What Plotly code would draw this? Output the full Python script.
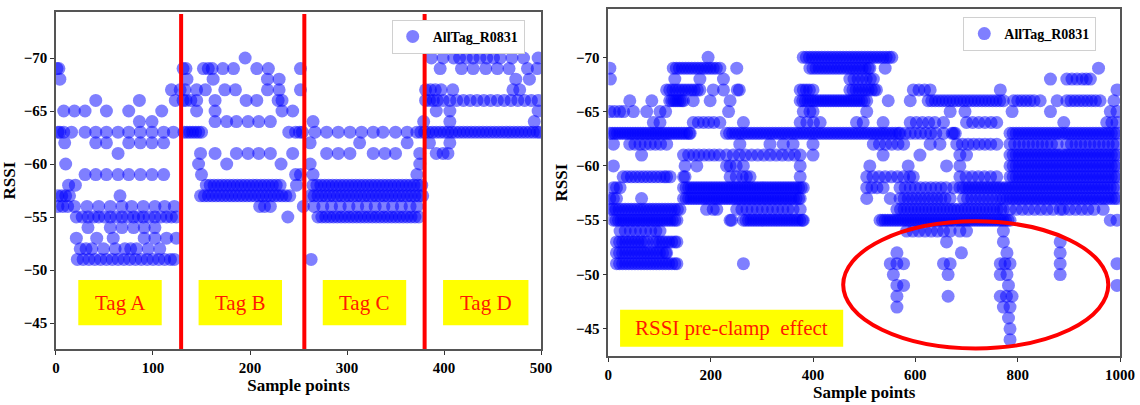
import plotly.graph_objects as go

# ---------------- data: left panel (x positions of samples per RSSI level) ----------------
left_levels = [-70, -69, -68, -67, -66, -65, -64, -63, -62, -61, -60, -59, -58, -57, -56, -55, -54, -53, -52, -51]
left_m70 = [195, 387, 399, 410, 416, 423, 430, 437, 444, 451, 458, 470, 482, 497]
left_m69 = [1, 3, 131, 134, 152, 157, 161, 172, 183, 207, 219, 252, 396, 418, 430, 443, 455, 467, 486, 496]
left_m68 = [4, 135, 162, 218, 230, 474, 488]
left_m67 = [119, 128, 133, 145, 154, 174, 185, 218, 230, 252, 381, 386, 391, 397, 409, 471, 478]
left_m66 = [41, 86, 123, 131, 134, 139, 145, 164, 196, 207, 229, 233, 381, 385, 389, 393, 399, 406, 413, 420,
            427, 434, 441, 448, 455, 462, 469, 476, 483, 490, 497]
left_m65 = [8, 19, 30, 52, 75, 109, 145, 164, 233, 244, 392, 406, 497]
left_m64 = [86, 99, 164, 176, 186, 198, 209, 221, 265, 379, 406, 493]
left_m63 = [2, 4, 8, 16, 30, 41, 52, 64, 75, 87, 99, 111, 121, 132, 135, 138, 141, 144, 147, 150, 240, 247, 251,
            254, 267, 279, 291, 303, 315, 327, 337, 350, 362, 372, 376, 380, 384, 388, 392, 396, 400, 404, 408, 412,
            416, 420, 424, 428, 432, 436, 440, 444, 448, 452, 456, 460, 464, 468, 472, 476, 480, 484, 488, 492, 496,
            499]
left_m62 = [9, 41, 52, 75, 87, 99, 111, 262, 313, 362, 385, 406]
left_m61 = [64, 149, 164, 186, 198, 209, 221, 244, 279, 291, 303, 327, 339, 350, 375, 392, 399, 404]
left_m60 = [10, 147, 176, 232, 262, 375]
left_m59 = [30, 41, 52, 64, 75, 87, 99, 111, 150, 247, 252, 265, 372]
left_m58 = [13, 20, 155, 159, 163, 167, 171, 175, 179, 183, 187, 191, 195, 199, 203, 207, 211, 215, 219, 223, 227,
            231, 248, 265, 269, 273, 277, 281, 285, 289, 293, 297, 301, 305, 309, 313, 317, 321, 325, 329, 333, 337,
            341, 345, 349, 353, 357, 361, 365, 369, 373, 377]
left_m57 = [2, 6, 10, 14, 66, 149, 153, 157, 161, 165, 169, 173, 177, 181, 185, 189, 193, 197, 201, 205, 209, 213,
            217, 221, 225, 229, 233, 237, 241, 262, 266, 270, 274, 278, 282, 286, 290, 294, 298, 302, 306, 310, 314,
            318, 322, 326, 330, 334, 338, 342, 346, 350, 354, 358, 362, 366, 370, 374, 378]
left_m56 = [2, 7, 12, 19, 32, 44, 56, 68, 78, 90, 102, 112, 122, 210, 215, 221, 255, 266, 275, 284, 293, 302, 311,
            320, 329, 338, 347, 356, 365, 372]
left_m55 = [21, 27, 33, 39, 44, 50, 56, 62, 68, 74, 80, 85, 90, 96, 102, 108, 114, 119, 124, 239, 270, 274, 278,
            282, 286, 290, 294, 298, 302, 306, 310, 314, 318, 322, 326, 330, 334, 338, 342, 346, 350, 354, 358, 362,
            366, 370, 374]
left_m54 = [33, 56, 68, 80, 91, 102]
left_m53 = [21, 42, 59, 91, 102, 114, 124]
left_m52 = [25, 31, 37, 49, 61, 71, 77, 83, 95, 107]
left_m51 = [22, 28, 34, 40, 46, 52, 58, 64, 70, 76, 82, 88, 94, 100, 106, 112, 118, 122, 263]
left_rows = [left_m70, left_m69, left_m68, left_m67, left_m66, left_m65, left_m64, left_m63, left_m62, left_m61,
             left_m60, left_m59, left_m58, left_m57, left_m56, left_m55, left_m54, left_m53, left_m52, left_m51]

tag_boundaries = [129, 256, 380]
tag_labels = ["Tag A", "Tag B", "Tag C", "Tag D"]

# ---------------- data: right panel ----------------
right_levels = [-70, -69, -68, -67, -66, -65, -64, -63, -62, -61, -60, -59, -58, -57, -56, -55, -54, -53, -52, -51,
                -50, -49, -48, -47, -46, -45, -44]
right_m70 = [195, 381, 387, 393, 399, 405, 411, 417, 423, 429, 435, 441, 447, 453, 459, 465, 471, 477, 483, 489,
             495, 501, 507, 513, 519, 525, 531, 537, 543, 549, 554]
right_m69 = [3, 127, 133, 139, 145, 151, 157, 163, 169, 175, 181, 187, 193, 199, 205, 211, 218, 251, 394, 400, 406,
             412, 418, 424, 430, 436, 442, 448, 454, 460, 466, 472, 478, 484, 490, 496, 502, 508, 511, 541, 958]
right_m68 = [4, 130, 179, 225, 472, 480, 488, 496, 504, 512, 518, 864, 896, 906, 916, 926, 934, 942]
right_m67 = [114, 120, 126, 132, 138, 144, 150, 156, 162, 168, 174, 179, 205, 225, 252, 256, 375, 381, 387, 393, 400,
             472, 478, 484, 490, 496, 502, 508, 514, 520, 524, 596, 607, 618, 629, 766, 994]
right_m66 = [42, 85, 120, 124, 128, 132, 136, 140, 144, 147, 166, 199, 238, 375, 380, 385, 390, 395, 400, 405, 410,
             415, 420, 425, 430, 435, 440, 445, 450, 455, 460, 465, 470, 475, 480, 485, 490, 495, 500, 505, 547, 590,
             625, 632, 639, 646, 653, 660, 667, 674, 681, 688, 695, 702, 709, 716, 723, 730, 737, 744, 751, 758, 765,
             772, 792, 800, 808, 816, 824, 832, 844, 877, 896, 904, 912, 920, 928, 936, 944, 952, 961, 988]
right_m65 = [3, 12, 22, 30, 49, 75, 101, 112, 235, 381, 394, 400, 505, 668, 697, 789, 864, 981, 994]
right_m64 = [88, 101, 166, 176, 186, 196, 206, 218, 264, 375, 388, 401, 414, 485, 498, 537, 590, 602, 614, 626, 638,
             655, 700, 712, 724, 736, 748, 759, 890, 974, 984, 994]
right_m63 = [3, 8, 13, 18, 23, 28, 33, 38, 43, 48, 53, 58, 63, 68, 73, 78, 83, 88, 93, 98, 103, 108, 113, 118, 123,
             128, 133, 138, 143, 148, 153, 158, 160, 231, 237, 243, 249, 255, 261, 267, 273, 279, 285, 291, 297, 303,
             309, 315, 321, 327, 333, 339, 345, 351, 357, 363, 369, 375, 381, 387, 393, 399, 405, 411, 417, 423, 429,
             435, 441, 447, 453, 459, 465, 471, 477, 483, 489, 495, 501, 507, 513, 519, 525, 531, 537, 543, 549, 555,
             561, 567, 570, 580, 590, 600, 610, 620, 630, 640, 655, 672, 675, 678, 785, 791, 797, 803, 809, 815, 821,
             827, 833, 839, 845, 851, 857, 863, 869, 875, 881, 887, 893, 899, 905, 911, 917, 923, 929, 935, 941, 947,
             953, 959, 965, 971, 977, 983, 989, 994]
right_m62 = [10, 42, 52, 62, 72, 82, 92, 102, 114, 257, 316, 342, 361, 400, 518, 530, 542, 554, 566, 577, 629, 648,
             681, 692, 703, 714, 725, 736, 747, 759, 785, 794, 803, 812, 821, 830, 839, 848, 857, 866, 877, 896, 905,
             914, 923, 932, 941, 950, 959, 968, 977, 986, 994]
right_m61 = [65, 147, 157, 167, 177, 187, 197, 207, 217, 231, 244, 256, 268, 280, 292, 304, 316, 328, 340, 352, 364,
             375, 400, 537, 609, 687, 700, 785, 791, 797, 803, 809, 815, 821, 827, 833, 839, 845, 851, 857, 863, 869,
             875, 881, 887, 893, 899, 905, 911, 917, 923, 929, 935, 941, 947, 953, 959, 965, 971, 977, 983, 989, 994]
right_m60 = [10, 150, 173, 231, 238, 250, 264, 375, 511, 586, 661, 687, 785, 791, 797, 803, 809, 815, 821, 827, 833,
             839, 845, 851, 857, 863, 869, 875, 881, 887, 893, 899, 905, 911, 917, 923, 929, 935, 941, 947, 953, 959,
             965, 971, 977, 983, 989, 994]
right_m59 = [29, 37, 45, 53, 61, 69, 77, 85, 93, 101, 109, 114, 121, 147, 150, 238, 250, 262, 270, 277, 375, 505,
             517, 529, 541, 553, 565, 577, 589, 596, 687, 699, 711, 723, 735, 747, 759, 785, 791, 797, 803, 809, 815,
             821, 827, 833, 839, 845, 851, 857, 863, 869, 875, 881, 887, 893, 899, 905, 911, 917, 923, 929, 935, 941,
             947, 953, 959, 965, 971, 977, 983, 989, 994]
right_m58 = [10, 16, 23, 147, 152, 157, 162, 167, 172, 177, 182, 187, 192, 197, 202, 207, 212, 217, 222, 227, 232,
             237, 242, 247, 252, 257, 262, 267, 272, 277, 282, 287, 292, 297, 302, 307, 312, 317, 322, 327, 332, 337,
             342, 347, 352, 357, 362, 367, 372, 377, 381, 505, 515, 525, 537, 570, 580, 590, 600, 610, 620, 630, 640,
             650, 660, 675, 687, 693, 699, 705, 711, 717, 723, 729, 735, 741, 747, 753, 759, 765, 771, 777, 783, 789,
             795, 801, 807, 813, 819, 825, 831, 837, 843, 849, 855, 861, 867, 873, 879, 885, 891, 897, 903, 909, 915,
             921, 927, 933, 939, 945, 951, 957, 963, 969, 975, 981, 987, 994]
right_m57 = [3, 10, 16, 65, 147, 152, 157, 162, 167, 172, 177, 182, 187, 192, 197, 202, 207, 212, 217, 222, 227, 232,
             237, 242, 247, 252, 257, 262, 267, 272, 277, 282, 287, 292, 297, 302, 307, 312, 317, 322, 327, 332, 337,
             342, 347, 352, 357, 362, 367, 372, 375, 505, 551, 570, 578, 586, 594, 602, 610, 618, 626, 634, 642, 650,
             658, 668, 694, 702, 710, 718, 726, 734, 742, 750, 758, 766, 772, 779, 785, 791, 797, 803, 809, 815, 821,
             827, 833, 839, 845, 851, 857, 863, 869, 875, 881, 887, 893, 899, 905, 911, 917, 923, 929, 935, 941, 947,
             953, 959, 965, 971, 977, 983, 989, 994]
right_m56 = [3, 9, 15, 21, 27, 33, 39, 45, 51, 57, 63, 69, 75, 81, 87, 93, 99, 105, 111, 117, 123, 129, 135, 140,
             192, 205, 212, 251, 261, 271, 281, 291, 301, 311, 321, 331, 341, 351, 361, 375, 564, 571, 578, 585, 592,
             599, 606, 613, 620, 627, 634, 641, 648, 655, 662, 669, 676, 683, 690, 697, 704, 711, 718, 725, 732, 739,
             746, 753, 760, 767, 772, 785, 797, 809, 821, 833, 845, 857, 869, 883, 889, 901, 913, 925, 937, 949, 967]
right_m55 = [10, 15, 20, 25, 30, 35, 40, 45, 50, 55, 60, 65, 70, 75, 80, 85, 90, 95, 100, 105, 110, 115, 120, 125,
             130, 134, 238, 241, 264, 269, 274, 279, 284, 289, 294, 299, 304, 309, 314, 319, 324, 329, 334, 339, 344,
             349, 354, 359, 364, 369, 374, 379, 381, 531, 536, 541, 546, 551, 556, 561, 566, 571, 576, 581, 586, 591,
             596, 601, 606, 611, 616, 621, 626, 631, 636, 641, 646, 651, 656, 661, 666, 671, 676, 681, 686, 691, 696,
             701, 706, 711, 716, 721, 726, 731, 736, 741, 746, 751, 756, 761, 766, 771, 776, 781, 785, 981, 994]
right_m54 = [23, 33, 43, 53, 63, 73, 83, 93, 101, 583, 595, 607, 619, 631, 643, 655, 668, 687, 700, 772]
right_m53 = [16, 22, 28, 34, 40, 46, 52, 58, 64, 70, 76, 88, 94, 100, 106, 112, 118, 124, 130, 134, 661, 772, 883]
right_m52 = [16, 22, 28, 34, 40, 46, 52, 58, 64, 70, 76, 82, 88, 94, 100, 106, 112, 114, 564, 690, 779, 883]
right_m51 = [16, 22, 28, 34, 40, 46, 52, 58, 64, 70, 76, 82, 88, 94, 100, 106, 112, 118, 124, 130, 134, 264, 551,
             564, 577, 655, 668, 766, 775, 785, 883, 994]
right_m50 = [557, 664, 766, 779, 883]
right_m49 = [564, 577, 782, 994]
right_m48 = [564, 664, 766, 778, 789]
right_m47 = [564, 772, 785]
right_m46 = [782]
right_m45 = [785]
right_m44 = [785]
right_rows = [right_m70, right_m69, right_m68, right_m67, right_m66, right_m65, right_m64, right_m63, right_m62,
              right_m61, right_m60, right_m59, right_m58, right_m57, right_m56, right_m55, right_m54, right_m53,
              right_m52, right_m51, right_m50, right_m49, right_m48, right_m47, right_m46, right_m45, right_m44]

series_name = "AllTag_R0831"
annot_right = "RSSI pre-clamp\u00a0 effect"


def flatten(levels, rows):
    xs, ys = [], []
    for lvl, row in zip(levels, rows):
        for v in row:
            xs.append(v)
            ys.append(lvl)
    return xs, ys


lx, ly = flatten(left_levels, left_rows)
rx, ry = flatten(right_levels, right_rows)

SERIF = "Liberation Serif, Times New Roman, serif"
marker = dict(size=13, color="blue", opacity=0.5, line=dict(width=0))

fig = go.Figure()
fig.add_trace(go.Scatter(x=lx, y=ly, mode="markers", marker=marker, name=series_name,
                         xaxis="x", yaxis="y", legend="legend"))
fig.add_trace(go.Scatter(x=rx, y=ry, mode="markers", marker=marker, name=series_name,
                         xaxis="x2", yaxis="y2", legend="legend2"))

tickfont = dict(family=SERIF, size=15, color="black", weight="bold")
titlefont = dict(family=SERIF, size=17, color="black", weight="bold")
axis_common = dict(showgrid=False, zeroline=False, showline=True, mirror=True, linecolor="#555", linewidth=1.5,
                   ticks="outside", ticklen=4, tickwidth=1.2, tickcolor="#333", tickfont=tickfont,
                   automargin=False)

shapes = []
for b in tag_boundaries:
    shapes.append(dict(type="line", xref="x", yref="y domain", x0=b, x1=b, y0=0, y1=0.995,
                       line=dict(color="#ff0000", width=4)))
tag_boxes = [(23, 109), (147, 233), (275, 361), (399, 487)]
annotations = []
for (a, b), lab in zip(tag_boxes, tag_labels):
    shapes.append(dict(type="rect", xref="x", yref="y", x0=a, x1=b, y0=-49.05, y1=-44.8,
                       fillcolor="#ffff00", line=dict(width=0), layer="above"))
    annotations.append(dict(xref="x", yref="y", x=(a + b) / 2, y=-46.9, text=lab, showarrow=False,
                            font=dict(family=SERIF, size=21, color="#ff1a00")))
shapes.append(dict(type="rect", xref="x2", yref="y2", x0=23, x1=459, y0=-46.75, y1=-43.35,
                   fillcolor="#ffff00", line=dict(width=0), layer="above"))
annotations.append(dict(xref="x2", yref="y2", x=241, y=-45.05, text=annot_right, showarrow=False,
                        font=dict(family=SERIF, size=21, color="#ff1a00")))
shapes.append(dict(type="circle", xref="x2", yref="y2", x0=459, x1=977, y0=-54.9, y1=-43.2,
                   line=dict(color="#ff0000", width=4)))

fig.update_layout(
    width=1140, height=405, margin=dict(l=0, r=0, t=0, b=0),
    paper_bgcolor="white", plot_bgcolor="white", hovermode=False,
    xaxis=dict(domain=[0.0491, 0.4746], range=[0, 500], tickvals=[0, 100, 200, 300, 400, 500],
               title=dict(text="Sample points", font=titlefont, standoff=4), anchor="y", **axis_common),
    yaxis=dict(domain=[0.1383, 0.9696], range=[-42.55, -74.31], tickvals=[-70, -65, -60, -55, -50, -45],
               title=dict(text="RSSI", font=titlefont, standoff=4), anchor="x", **axis_common),
    xaxis2=dict(domain=[0.5336, 0.9825], range=[0, 1000], tickvals=[0, 200, 400, 600, 800, 1000],
                title=dict(text="Sample points", font=titlefont, standoff=4), anchor="y2", **axis_common),
    yaxis2=dict(domain=[0.1210, 0.9778], range=[-42.5, -74.45], tickvals=[-70, -65, -60, -55, -50, -45],
                title=dict(text="RSSI", font=titlefont, standoff=4), anchor="x2", **axis_common),
    legend=dict(x=0.3436, y=0.951, xanchor="left", yanchor="top", bgcolor="white", bordercolor="#d0d0d0",
                borderwidth=1, font=dict(family=SERIF, size=14, color="black", weight="bold")),
    legend2=dict(x=0.845, y=0.958, xanchor="left", yanchor="top", bgcolor="white", bordercolor="#d0d0d0",
                 borderwidth=1, font=dict(family=SERIF, size=14, color="black", weight="bold")),
    shapes=shapes, annotations=annotations, showlegend=True,
)

fig.write_html("out.html", config={"displayModeBar": False},
               post_script="document.body.style.margin='0';document.body.style.overflow='hidden';")
